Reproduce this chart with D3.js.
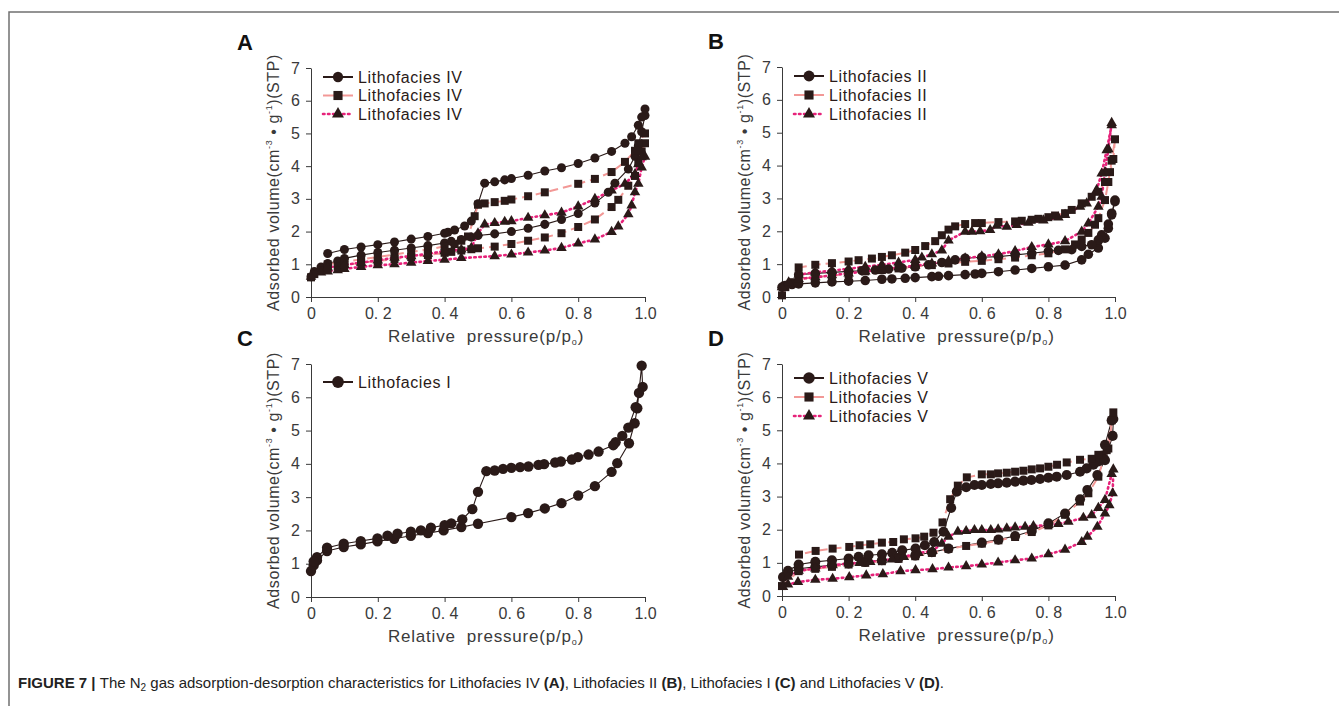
<!DOCTYPE html>
<html>
<head>
<meta charset="utf-8">
<script src="https://cdn.jsdelivr.net/npm/d3@7"></script>
<style>
  body { margin: 0; background: #fff; }
  svg { font-family: Arial, "Liberation Sans", sans-serif; }
  .axis path, .axis line { stroke: #3a3a3a; stroke-width: 1; }
  .axis text { font-size: 16px; fill: #3a3a3a; font-family: Arial, "Liberation Sans", sans-serif; }
  .leg { font-size: 16px; fill: #2a1a18; letter-spacing: 0.6px; }
</style>
</head>
<body>
<script>

// ---- data: [p/p0, adsorbed volume] ----
// panel A, Lithofacies IV
var A1ads = [[0,0.62],[0.01,0.78],[0.03,0.92],[0.05,1.02],[0.08,1.1],[0.1,1.18],[0.15,1.28],[0.2,1.36],[0.25,1.43],[0.3,1.5],[0.35,1.57],[0.4,1.65],[0.42,1.7],[0.45,1.76],[0.48,1.83],[0.5,1.88],[0.55,1.93],[0.6,2.0],[0.65,2.1],[0.7,2.22],[0.75,2.37],[0.8,2.55],[0.85,2.87],[0.89,3.2],[0.91,3.48],[0.95,3.91],[0.97,4.3],[0.98,4.62],[0.99,5.05],[1.0,5.55]];
var A1des = [[1.0,5.75],[0.99,5.5],[0.98,5.25],[0.96,4.9],[0.94,4.7],[0.9,4.45],[0.85,4.25],[0.8,4.08],[0.75,3.95],[0.7,3.85],[0.65,3.72],[0.6,3.62],[0.58,3.58],[0.55,3.52],[0.52,3.48],[0.5,2.85],[0.48,2.32],[0.46,2.17],[0.43,2.05],[0.41,1.98],[0.4,1.95],[0.35,1.85],[0.3,1.77],[0.25,1.68],[0.2,1.6],[0.15,1.53],[0.1,1.45],[0.05,1.33]];
var A2ads = [[0,0.6],[0.01,0.7],[0.03,0.8],[0.05,0.88],[0.08,0.94],[0.1,0.98],[0.15,1.05],[0.2,1.1],[0.25,1.16],[0.3,1.22],[0.35,1.28],[0.4,1.35],[0.42,1.38],[0.45,1.42],[0.48,1.46],[0.5,1.49],[0.55,1.54],[0.6,1.62],[0.65,1.72],[0.7,1.82],[0.75,1.95],[0.8,2.14],[0.85,2.37],[0.9,2.75],[0.92,2.97],[0.95,3.4],[0.97,3.7],[0.98,4.1],[0.99,4.45],[1.0,4.7]];
var A2des = [[1.0,5.0],[0.98,4.7],[0.97,4.47],[0.94,4.13],[0.9,3.82],[0.85,3.61],[0.8,3.46],[0.7,3.2],[0.65,3.08],[0.6,2.98],[0.58,2.94],[0.55,2.9],[0.52,2.86],[0.5,2.82],[0.49,2.47],[0.47,1.85],[0.45,1.72],[0.43,1.62],[0.4,1.55],[0.35,1.45],[0.3,1.38],[0.25,1.3],[0.2,1.22],[0.15,1.15],[0.1,1.08],[0.05,1.0]];
var A3ads = [[0,0.62],[0.03,0.75],[0.05,0.78],[0.08,0.82],[0.1,0.86],[0.15,0.92],[0.2,0.97],[0.25,1.0],[0.3,1.05],[0.35,1.1],[0.4,1.14],[0.45,1.19],[0.55,1.25],[0.6,1.3],[0.65,1.36],[0.7,1.42],[0.75,1.5],[0.8,1.64],[0.85,1.76],[0.9,1.99],[0.92,2.16],[0.95,2.53],[0.96,2.8],[0.97,3.2],[0.98,3.46],[0.99,3.96],[1.0,4.29]];
var A3des = [[0.99,4.27],[0.98,4.06],[0.97,3.76],[0.94,3.46],[0.9,3.26],[0.85,3.0],[0.8,2.77],[0.75,2.58],[0.7,2.5],[0.65,2.42],[0.6,2.32],[0.58,2.3],[0.55,2.26],[0.52,2.22],[0.5,1.95],[0.48,1.5],[0.45,1.45],[0.4,1.4],[0.35,1.32],[0.3,1.25],[0.25,1.2],[0.2,1.12],[0.15,1.05],[0.1,0.98],[0.05,0.9]];

// panel B, Lithofacies II
var B1ads = [[0,0.3],[0.01,0.35],[0.03,0.38],[0.05,0.4],[0.1,0.43],[0.15,0.46],[0.2,0.48],[0.25,0.5],[0.3,0.54],[0.33,0.55],[0.37,0.57],[0.4,0.59],[0.45,0.62],[0.47,0.63],[0.5,0.65],[0.55,0.68],[0.58,0.7],[0.6,0.72],[0.65,0.77],[0.7,0.82],[0.75,0.87],[0.8,0.92],[0.85,0.97],[0.9,1.13],[0.92,1.3],[0.95,1.49],[0.97,1.79],[0.98,2.09],[0.99,2.5],[1.0,2.9]];
var B1des = [[1.0,2.95],[0.99,2.55],[0.98,2.22],[0.96,1.89],[0.95,1.74],[0.93,1.59],[0.9,1.54],[0.87,1.44],[0.83,1.42],[0.8,1.39],[0.75,1.33],[0.7,1.28],[0.65,1.23],[0.6,1.21],[0.55,1.18],[0.52,1.13],[0.48,1.05],[0.44,0.98],[0.4,0.92],[0.36,0.88],[0.32,0.85],[0.28,0.82],[0.24,0.8],[0.2,0.78],[0.15,0.75],[0.1,0.72],[0.05,0.68]];
var B2ads = [[0,0.05],[0.01,0.3],[0.03,0.45],[0.05,0.55],[0.1,0.6],[0.15,0.65],[0.2,0.7],[0.25,0.78],[0.3,0.82],[0.35,0.87],[0.4,0.93],[0.45,0.97],[0.5,1.02],[0.55,1.07],[0.6,1.1],[0.65,1.15],[0.7,1.2],[0.75,1.27],[0.8,1.33],[0.85,1.45],[0.88,1.6],[0.9,1.75],[0.92,1.95],[0.94,2.2],[0.95,2.4],[0.97,2.95],[0.98,3.5],[0.99,4.15],[1.0,4.8]];
var B2des = [[0.995,4.2],[0.985,3.8],[0.97,3.5],[0.95,3.2],[0.93,3.05],[0.9,2.85],[0.87,2.65],[0.85,2.55],[0.82,2.48],[0.8,2.43],[0.77,2.38],[0.75,2.35],[0.72,2.32],[0.7,2.3],[0.65,2.28],[0.6,2.25],[0.58,2.25],[0.55,2.22],[0.52,2.15],[0.5,2.05],[0.48,1.88],[0.46,1.7],[0.43,1.55],[0.4,1.43],[0.37,1.35],[0.33,1.27],[0.3,1.22],[0.27,1.17],[0.23,1.12],[0.2,1.08],[0.15,1.03],[0.1,0.98],[0.05,0.9]];
var B3ads = [[0,0.3],[0.02,0.45],[0.05,0.55],[0.1,0.6],[0.15,0.66],[0.2,0.72],[0.25,0.78],[0.3,0.84],[0.35,0.9],[0.4,0.95],[0.45,1.02],[0.5,1.1],[0.55,1.18],[0.6,1.24],[0.65,1.3],[0.7,1.4],[0.75,1.52],[0.8,1.6],[0.85,1.7],[0.9,1.99],[0.92,2.24],[0.95,2.75],[0.96,3.05],[0.97,3.8],[0.98,4.5],[0.99,5.3]];
var B3des = [[0.99,5.23],[0.975,4.47],[0.96,3.76],[0.945,3.26],[0.915,2.85],[0.895,2.75],[0.85,2.5],[0.83,2.42],[0.785,2.33],[0.74,2.26],[0.705,2.19],[0.675,2.14],[0.645,2.17],[0.625,2.04],[0.595,2.0],[0.57,1.99],[0.55,1.99],[0.5,1.72],[0.48,1.42],[0.45,1.3],[0.42,1.2],[0.4,1.13],[0.35,1.05],[0.3,0.98],[0.25,0.92],[0.2,0.86],[0.15,0.8],[0.1,0.75],[0.05,0.68]];

// panel C, Lithofacies I
var C1ads = [[0,0.78],[0.008,0.95],[0.018,1.1],[0.048,1.38],[0.098,1.5],[0.149,1.58],[0.199,1.67],[0.249,1.75],[0.299,1.84],[0.35,1.92],[0.397,2.0],[0.45,2.1],[0.5,2.2],[0.6,2.4],[0.65,2.52],[0.7,2.66],[0.75,2.82],[0.8,3.05],[0.85,3.33],[0.9,3.76],[0.917,4.02],[0.952,4.62],[0.969,5.22],[0.977,5.67],[0.99,6.95]];
var C1des = [[0.993,6.31],[0.982,6.13],[0.972,5.7],[0.95,5.09],[0.932,4.84],[0.912,4.65],[0.905,4.56],[0.861,4.37],[0.831,4.28],[0.799,4.2],[0.781,4.13],[0.748,4.07],[0.731,4.04],[0.698,3.99],[0.681,3.97],[0.651,3.92],[0.626,3.9],[0.6,3.88],[0.575,3.85],[0.55,3.8],[0.525,3.78],[0.5,3.16],[0.483,2.64],[0.453,2.33],[0.42,2.21],[0.4,2.16],[0.359,2.08],[0.329,2.0],[0.299,1.96],[0.259,1.9],[0.229,1.84],[0.199,1.76],[0.149,1.68],[0.098,1.6],[0.048,1.48],[0.018,1.2],[0.008,1.07]];

// panel D, Lithofacies V
var D1ads = [[0.003,0.57],[0.018,0.7],[0.05,0.82],[0.1,0.88],[0.15,0.93],[0.2,0.98],[0.25,1.03],[0.3,1.08],[0.35,1.15],[0.4,1.22],[0.45,1.32],[0.5,1.43],[0.6,1.61],[0.65,1.7],[0.7,1.81],[0.75,1.96],[0.8,2.19],[0.85,2.49],[0.895,2.92],[0.917,3.2],[0.947,3.65],[0.97,4.1],[0.993,4.83],[0.995,5.34]];
var D1des = [[0.99,5.3],[0.97,4.56],[0.96,4.23],[0.95,4.06],[0.935,3.96],[0.915,3.85],[0.895,3.75],[0.855,3.65],[0.825,3.6],[0.8,3.57],[0.775,3.53],[0.749,3.5],[0.725,3.48],[0.7,3.45],[0.675,3.42],[0.649,3.4],[0.627,3.38],[0.6,3.35],[0.578,3.35],[0.553,3.28],[0.525,3.15],[0.508,2.66],[0.485,1.94],[0.457,1.63],[0.429,1.53],[0.401,1.43],[0.361,1.38],[0.331,1.3],[0.3,1.26],[0.26,1.23],[0.23,1.18],[0.2,1.13],[0.15,1.08],[0.1,1.03],[0.05,0.95],[0.018,0.76]];
var D2ads = [[0,0.3],[0.05,0.75],[0.1,0.82],[0.15,0.88],[0.2,0.95],[0.25,1.0],[0.3,1.05],[0.35,1.12],[0.4,1.2],[0.45,1.3],[0.5,1.42],[0.553,1.51],[0.6,1.58],[0.65,1.68],[0.7,1.78],[0.75,1.93],[0.8,2.13],[0.85,2.45],[0.895,2.85],[0.92,3.1],[0.95,3.6],[0.966,4.15],[0.98,4.45],[0.995,5.54]];
var D2des = [[0.99,5.3],[0.975,4.4],[0.95,4.26],[0.93,4.14],[0.895,4.11],[0.855,4.03],[0.826,3.96],[0.8,3.9],[0.775,3.85],[0.75,3.82],[0.725,3.78],[0.7,3.75],[0.675,3.72],[0.649,3.7],[0.627,3.67],[0.6,3.67],[0.555,3.58],[0.528,3.33],[0.505,2.92],[0.482,2.22],[0.455,1.91],[0.427,1.79],[0.401,1.74],[0.366,1.71],[0.334,1.63],[0.3,1.61],[0.265,1.56],[0.233,1.53],[0.202,1.48],[0.152,1.43],[0.101,1.36],[0.051,1.25]];
var D3ads = [[0.003,0.27],[0.018,0.35],[0.048,0.42],[0.1,0.49],[0.152,0.52],[0.202,0.57],[0.253,0.62],[0.303,0.66],[0.356,0.75],[0.401,0.78],[0.452,0.81],[0.5,0.86],[0.553,0.9],[0.6,0.95],[0.649,1.01],[0.7,1.08],[0.75,1.13],[0.8,1.26],[0.85,1.4],[0.9,1.63],[0.917,1.79],[0.947,2.09],[0.97,2.49],[0.983,2.74],[0.993,3.1]];
var D3des = [[0.995,3.82],[0.99,3.68],[0.97,2.9],[0.95,2.66],[0.93,2.44],[0.905,2.36],[0.86,2.24],[0.83,2.17],[0.8,2.14],[0.755,2.11],[0.73,2.09],[0.7,2.07],[0.675,2.04],[0.649,2.01],[0.627,1.99],[0.6,1.99],[0.578,1.99],[0.553,1.96],[0.528,1.94],[0.5,1.79],[0.48,1.58],[0.452,1.36],[0.41,1.3],[0.366,1.18],[0.33,1.1],[0.3,1.08],[0.265,1.03],[0.233,1.0],[0.2,0.98],[0.152,0.93],[0.1,0.83],[0.05,0.76],[0.018,0.58]];

var xTicks = [0, 0.2, 0.4, 0.6, 0.8, 1.0];
var yTicks = [0, 1, 2, 3, 4, 5, 6, 7];
var xTickLabels = ["0", "0. 2", "0. 4", "0. 6", "0. 8", "1.0"];

var width = 1339,
    height = 706;

var svg = d3.select('body').append('svg')
    .attr('width', width)
    .attr('height', height);

// frame of the figure page
svg.append('path')
    .attr('d', 'M9,' + height + 'V12H' + width)
    .attr('fill', 'none')
    .attr('stroke', '#707070')
    .attr('stroke-width', 1.5);

var ink = '#2a1a18';

var styles = {
  circle:   { stroke: ink,       width: 1.1, dash: null,      sym: d3.symbolCircle },
  square:   { stroke: '#f29896', width: 2,   dash: '9,5',     sym: d3.symbolSquare,   size: 64 },
  triangle: { stroke: '#e6237a', width: 2.6, dash: '1.5,3.5', sym: d3.symbolTriangle, size: 48 }
};

var panels = [
  { id: 'A', name: 'Lithofacies IV', x0: 311, x1: 645, y0: 297, y1: 68, legY: 77, legDy: 18.5, dot: 64,
    series: [['circle', A1ads, A1des], ['square', A2ads, A2des], ['triangle', A3ads, A3des]] },
  { id: 'B', name: 'Lithofacies II', x0: 782, x1: 1115, y0: 297, y1: 67, legY: 76, legDy: 19, dot: 72,
    series: [['circle', B1ads, B1des], ['square', B2ads, B2des], ['triangle', B3ads, B3des]] },
  { id: 'C', name: 'Lithofacies I', x0: 311, x1: 645, y0: 597, y1: 364, legY: 382, legDy: 19, dot: 84,
    series: [['circle', C1ads, C1des]] },
  { id: 'D', name: 'Lithofacies V', x0: 782, x1: 1115, y0: 596, y1: 364, legY: 378, legDy: 19, dot: 80,
    series: [['circle', D1ads, D1des], ['square', D2ads, D2des], ['triangle', D3ads, D3des]] }
];

panels.forEach(function(p) {

  var x = d3.scaleLinear().domain([0, 1]).range([p.x0, p.x1]);
  var y = d3.scaleLinear().domain([0, 7]).range([p.y0, p.y1]);

  var xAxis = d3.axisBottom(x)
      .tickValues(xTicks)
      .tickFormat(function(d, i) { return xTickLabels[i]; })
      .tickSize(5).tickPadding(6).tickSizeOuter(0);

  var yAxis = d3.axisLeft(y)
      .tickValues(yTicks)
      .tickFormat(d3.format('d'))
      .tickSize(5).tickPadding(6).tickSizeOuter(0);

  svg.append('g').attr('class', 'axis')
      .attr('transform', 'translate(0,' + p.y0 + ')')
      .call(xAxis);

  svg.append('g').attr('class', 'axis')
      .attr('transform', 'translate(' + p.x0 + ',0)')
      .call(yAxis);

  // axis titles
  var yt = svg.append('text')
      .attr('transform', 'translate(' + (p.x0 - 38) + ',' + ((p.y0 + p.y1) / 2) + ') rotate(-90)')
      .attr('text-anchor', 'middle')
      .attr('dy', '0.35em')
      .style('font-size', '16px')
      .style('letter-spacing', '0.6px')
      .attr('fill', '#3a3a3a');
  yt.append('tspan').text('Adsorbed volume(cm');
  yt.append('tspan').attr('dy', -7).style('font-size', '9px').text('-3');
  yt.append('tspan').attr('dy', 7).text(' \u2022 g');
  yt.append('tspan').attr('dy', -7).style('font-size', '9px').text('-1');
  yt.append('tspan').attr('dy', 7).text(')(STP)');

  var xt = svg.append('text')
      .attr('x', (p.x0 + p.x1) / 2 + 8)
      .attr('y', p.y0 + 45)
      .attr('text-anchor', 'middle')
      .style('font-size', '17px')
      .style('letter-spacing', '0.8px')
      .attr('fill', '#3a3a3a');
  xt.append('tspan').text('Relative\u00a0 pressure(p/p');
  xt.append('tspan').attr('dy', 3).style('font-size', '9px').text('o');
  xt.append('tspan').attr('dy', -3).text(')');

  // panel letter
  svg.append('text')
      .attr('x', p.x0 - 74)
      .attr('y', p.y1 - 18)
      .style('font-size', '22px')
      .style('font-weight', 'bold')
      .attr('fill', '#111')
      .text(p.id);

  var line = d3.line()
      .x(function(d) { return x(d[0]); })
      .y(function(d) { return y(d[1]); });

  // lines first, markers on top
  p.series.forEach(function(s) {
    var st = styles[s[0]];
    svg.append('path')
        .datum(s[1].concat(s[2]))
        .attr('d', line)
        .attr('fill', 'none')
        .attr('stroke', st.stroke)
        .attr('stroke-width', st.width)
        .attr('stroke-dasharray', st.dash)
        .attr('stroke-linecap', s[0] === 'triangle' ? 'round' : 'butt');
  });

  p.series.forEach(function(s) {
    var st = styles[s[0]];
    var size = s[0] === 'circle' ? p.dot : st.size;
    svg.append('g').selectAll('path')
        .data(s[1].concat(s[2]))
        .enter().append('path')
        .attr('transform', function(d) { return 'translate(' + x(d[0]) + ',' + y(d[1]) + ')'; })
        .attr('d', d3.symbol().type(st.sym).size(size))
        .attr('fill', ink);
  });

  // legend
  p.series.forEach(function(s, i) {
    var st = styles[s[0]];
    var size = s[0] === 'circle' ? p.dot : st.size;
    var ly = p.legY + i * p.legDy;
    var lx = p.x0 + 12;
    svg.append('line')
        .attr('x1', lx).attr('x2', lx + 30)
        .attr('y1', ly).attr('y2', ly)
        .attr('stroke', st.stroke)
        .attr('stroke-width', s[0] === 'circle' ? 2 : st.width)
        .attr('stroke-dasharray', s[0] === 'triangle' ? st.dash : null)
        .attr('stroke-linecap', s[0] === 'triangle' ? 'round' : 'butt');
    svg.append('path')
        .attr('transform', 'translate(' + (lx + 15) + ',' + ly + ')')
        .attr('d', d3.symbol().type(st.sym).size(size * 1.3))
        .attr('fill', ink);
    svg.append('text')
        .attr('class', 'leg')
        .attr('x', lx + 35)
        .attr('y', ly)
        .attr('dy', '0.35em')
        .text(p.name);
  });
});

// caption
var cap = svg.append('text')
    .attr('x', 18)
    .attr('y', 688)
    .style('font-size', '15px')
    .attr('fill', '#222');
cap.append('tspan').style('font-weight', 'bold').text('FIGURE 7 | ');
cap.append('tspan').text('The N');
cap.append('tspan').attr('dy', 3).style('font-size', '10px').text('2');
cap.append('tspan').attr('dy', -3).text(' gas adsorption-desorption characteristics for Lithofacies IV ');
cap.append('tspan').style('font-weight', 'bold').text('(A)');
cap.append('tspan').text(', Lithofacies II ');
cap.append('tspan').style('font-weight', 'bold').text('(B)');
cap.append('tspan').text(', Lithofacies I ');
cap.append('tspan').style('font-weight', 'bold').text('(C)');
cap.append('tspan').text(' and Lithofacies V ');
cap.append('tspan').style('font-weight', 'bold').text('(D)');
cap.append('tspan').text('.');

</script>
</body>
</html>
